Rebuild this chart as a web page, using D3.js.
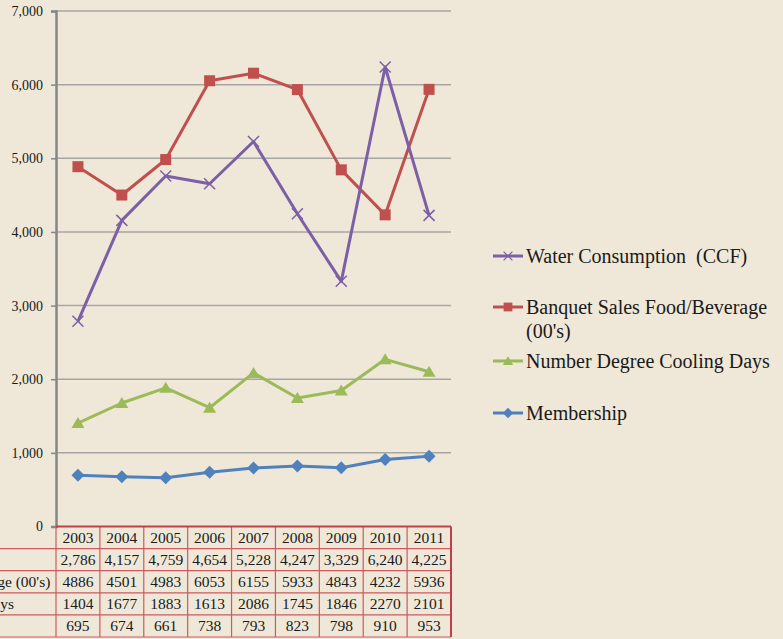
<!DOCTYPE html>
<html>
<head>
<meta charset="UTF-8">
<script src="https://d3js.org/d3.v7.min.js"></script>
<style>
  body { margin: 0; background: #EFE8D8; }
  svg { display: block; font-family: "Liberation Serif", "Times New Roman", serif; }
</style>
</head>
<body>
<div id="chart"></div>
<script>
// data
var years = ["2003", "2004", "2005", "2006", "2007", "2008", "2009", "2010", "2011"];
var water = [2786, 4157, 4759, 4654, 5228, 4247, 3329, 6240, 4225];
var banquet = [4886, 4501, 4983, 6053, 6155, 5933, 4843, 4232, 5936];
var cooling = [1404, 1677, 1883, 1613, 2086, 1745, 1846, 2270, 2101];
var membership = [695, 674, 661, 738, 793, 823, 798, 910, 953];
var yTicks = [0, 1000, 2000, 3000, 4000, 5000, 6000, 7000];

var series = [
  { name: "Water Consumption  (CCF)", label: ["Water Consumption  (CCF)"], values: water, color: "#7D5FA6", marker: "x", comma: true },
  { name: "Banquet Sales Food/Beverage (00's)", label: ["Banquet Sales Food/Beverage", "(00's)"], values: banquet, color: "#C0504D", marker: "square" },
  { name: "Number Degree Cooling Days", label: ["Number Degree Cooling Days"], values: cooling, color: "#9BBB59", marker: "triangle" },
  { name: "Membership", label: ["Membership"], values: membership, color: "#4F81BD", marker: "diamond" }
];

var W = 783, H = 639;
var plotL = 56, plotR = 451, plotT = 11, plotB = 526.5;
var rowH = 22.1;

var svg = d3.select("#chart").append("svg")
  .attr("width", W)
  .attr("height", H);

svg.append("rect").attr("width", W).attr("height", H).attr("fill", "#EFE8D8");

var x = d3.scaleBand().domain(years).range([plotL, plotR]);
var y = d3.scaleLinear().domain([0, 7000]).range([plotB, plotT]);

// gridlines
svg.append("g").selectAll("line")
  .data(yTicks.filter(function(d) { return d > 0; }))
  .enter().append("line")
  .attr("x1", plotL).attr("x2", plotR)
  .attr("y1", function(d) { return y(d); })
  .attr("y2", function(d) { return y(d); })
  .attr("stroke", "#A8A6A2")
  .attr("stroke-width", 1.5);

// y axis
var yAxis = svg.append("g")
  .attr("transform", "translate(" + plotL + ",0)")
  .call(d3.axisLeft(y).tickValues(yTicks).tickSize(5).tickPadding(8).tickFormat(d3.format(",")));
yAxis.select(".domain").attr("stroke", "#86868A").attr("stroke-width", 2.5);
yAxis.selectAll(".tick line").attr("stroke", "#86868A").attr("stroke-width", 1.5);
yAxis.selectAll(".tick text")
  .attr("font-family", "Liberation Serif")
  .attr("font-size", "14px")
  .attr("fill", "#1a1a1a");

// marker shapes
function drawMarker(g, type, color) {
  if (type === "x") {
    g.append("path").attr("d", "M-5.5,-5.5L5.5,5.5M-5.5,5.5L5.5,-5.5")
      .attr("stroke", color).attr("stroke-width", 1.5).attr("fill", "none");
  } else if (type === "square") {
    g.append("rect").attr("x", -5.5).attr("y", -5.5).attr("width", 11).attr("height", 11)
      .attr("fill", color);
  } else if (type === "triangle") {
    g.append("path").attr("d", "M0,-6L6.5,5L-6.5,5Z").attr("fill", color);
  } else {
    g.append("path").attr("d", "M0,-6.5L6.5,0L0,6.5L-6.5,0Z").attr("fill", color);
  }
}

var line = d3.line()
  .x(function(d, i) { return x(years[i]) + x.bandwidth() / 2; })
  .y(function(d) { return y(d); });

// draw bottom series first so water ends on top
series.slice().reverse().forEach(function(s) {
  var g = svg.append("g");
  g.append("path")
    .datum(s.values)
    .attr("d", line)
    .attr("fill", "none")
    .attr("stroke", s.color)
    .attr("stroke-width", 3)
    .attr("stroke-linejoin", "round");
  s.values.forEach(function(v, i) {
    var m = g.append("g")
      .attr("transform", "translate(" + (x(years[i]) + x.bandwidth() / 2) + "," + y(v) + ")");
    drawMarker(m, s.marker, s.color);
  });
});

// legend
var legendY = [256, 307, 361, 413];
series.forEach(function(s, i) {
  var g = svg.append("g").attr("transform", "translate(493," + legendY[i] + ")");
  g.append("line").attr("x1", 0).attr("x2", 30).attr("y1", 0).attr("y2", 0)
    .attr("stroke", s.color).attr("stroke-width", 3);
  drawMarker(g.append("g").attr("transform", "translate(15,0) scale(0.8)"), s.marker, s.color);
  s.label.forEach(function(t, j) {
    g.append("text")
      .attr("x", 33)
      .attr("y", j * 24)
      .attr("dy", "0.35em")
      .attr("font-size", "20px")
      .attr("fill", "#1a1a1a")
      .style("white-space", "pre")
      .text(t);
  });
});

// data table under the axis
var tbl = svg.append("g");
var labelLeft = -175;
var tableTop = plotB;
var nRows = 1 + series.length;

// header cells
years.forEach(function(yr) {
  tbl.append("text")
    .attr("x", x(yr) + x.bandwidth() / 2)
    .attr("y", tableTop + rowH / 2)
    .attr("dy", "0.35em")
    .attr("text-anchor", "middle")
    .attr("font-size", "15.5px")
    .attr("fill", "#1a1a1a")
    .text(yr);
});

series.forEach(function(s, r) {
  var cy = tableTop + rowH * (r + 1) + rowH / 2;
  tbl.append("text")
    .attr("x", labelLeft)
    .attr("y", cy)
    .attr("dy", "0.35em")
    .attr("font-size", "15.5px")
    .attr("fill", "#1a1a1a")
    .text(s.name);
  s.values.forEach(function(v, i) {
    tbl.append("text")
      .attr("x", x(years[i]) + x.bandwidth() / 2)
      .attr("y", cy)
      .attr("dy", "0.35em")
      .attr("text-anchor", "middle")
      .attr("font-size", "15.5px")
      .attr("fill", "#1a1a1a")
      .text(s.comma ? d3.format(",")(v) : v);
  });
});

// table grid lines
var gridColor = "#CC5A5E";
for (var r = 1; r <= nRows; r++) {
  tbl.append("line")
    .attr("x1", labelLeft - 5).attr("x2", plotR)
    .attr("y1", tableTop + rowH * r).attr("y2", tableTop + rowH * r)
    .attr("stroke", gridColor).attr("stroke-width", 1.2);
}
years.forEach(function(yr) {
  tbl.append("line")
    .attr("x1", x(yr)).attr("x2", x(yr))
    .attr("y1", tableTop).attr("y2", tableTop + rowH * nRows)
    .attr("stroke", gridColor).attr("stroke-width", 1.2);
});
tbl.append("line")
  .attr("x1", plotR).attr("x2", plotR)
  .attr("y1", tableTop).attr("y2", tableTop + rowH * nRows)
  .attr("stroke", "#C0404A").attr("stroke-width", 2);
tbl.append("line")
  .attr("x1", plotL).attr("x2", plotR)
  .attr("y1", tableTop).attr("y2", tableTop)
  .attr("stroke", "#C0404A").attr("stroke-width", 2);
</script>
</body>
</html>
